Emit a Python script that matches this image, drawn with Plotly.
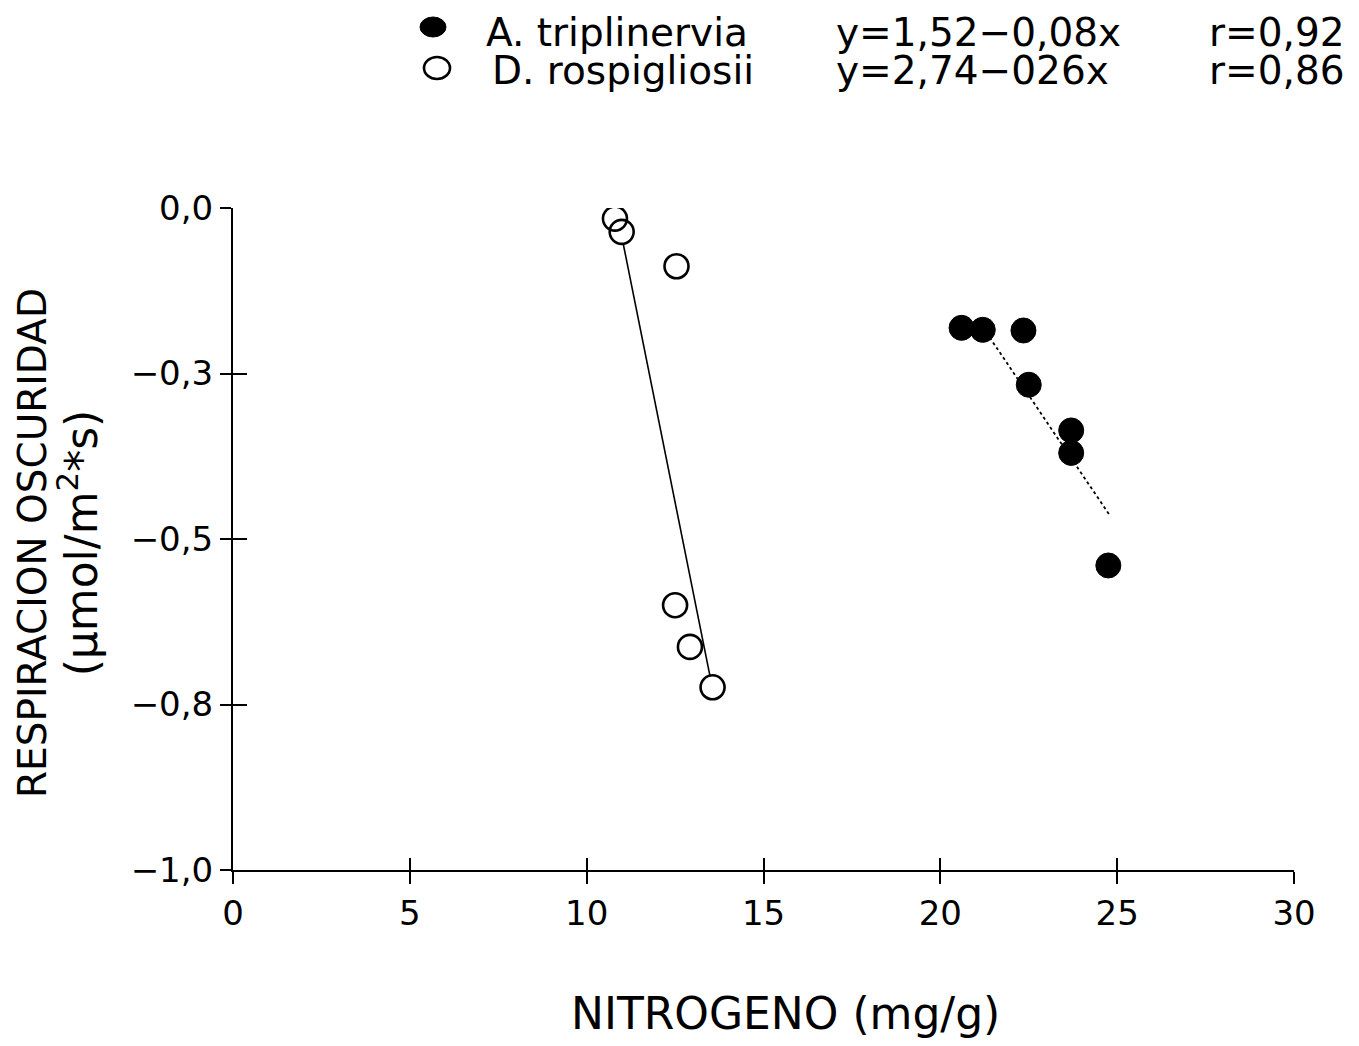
import plotly.graph_objects as go

# ---- data ----
a_name = "A. triplinervia"
a_x = [20.6, 21.2, 22.35, 22.5, 23.7, 23.7, 24.75]
a_y = [-0.181, -0.184, -0.185, -0.267, -0.336, -0.370, -0.540]
a_fit_x = [21.3, 24.8]
a_fit_y = [-0.188, -0.465]
a_eq = "y=1,52−0,08x"
a_r = "r=0,92"

d_name = "D. rospigliosii"
d_x = [10.80, 10.99, 12.54, 12.50, 12.92, 13.56]
d_y = [-0.016, -0.036, -0.088, -0.600, -0.663, -0.724]
d_fit_x = [11.03, 13.49]
d_fit_y = [-0.053, -0.708]
d_eq = "y=2,74−026x"
d_r = "r=0,86"

x_ticks = [0, 5, 10, 15, 20, 25, 30]
y_ticks = [0.0, -0.25, -0.5, -0.75, -1.0]
y_ticktext = ["0,0", "−0,3", "−0,5", "−0,8", "−1,0"]

x_title = "NITROGENO (mg/g)"
y_title = ("RESPIRACION OSCURIDAD<br>"
           "<span style='font-size:44px'>(µmol/m<sup>2</sup>*s)</span>")

FONT = "DejaVu Sans"
OFF = 8  # page body margin
W, H = 1359 - 2 * OFF, 1046 - 2 * OFF
L, T = 233 - OFF, 208 - OFF
R = W - (1294 - OFF)
B = H - (870 - OFF)
PW, PH = W - L - R, H - T - B


def px(xp):
    return (xp - OFF - L) / PW


def py(yp):
    return (H - B - (yp - OFF)) / PH


fig = go.Figure()

fig.add_trace(go.Scatter(x=d_fit_x, y=d_fit_y, mode="lines",
                         line=dict(color="black", width=1.6), showlegend=False))
fig.add_trace(go.Scatter(x=a_fit_x, y=a_fit_y, mode="lines",
                         line=dict(color="black", width=1.8, dash="dot"), showlegend=False))
fig.add_trace(go.Scatter(x=d_x, y=d_y, mode="markers", name=d_name,
                         marker=dict(symbol="circle-open", size=24, color="black",
                                     line=dict(width=2.6, color="black")),
                         showlegend=False))
fig.add_trace(go.Scatter(x=a_x, y=a_y, mode="markers", name=a_name,
                         marker=dict(symbol="circle", size=25, color="black",
                                     line=dict(width=1, color="black")),
                         showlegend=False))
# dummy trace to create overlay axes used for the inward half of the ticks
fig.add_trace(go.Scatter(x=[None], y=[None], xaxis="x2", yaxis="y2",
                         showlegend=False, hoverinfo="skip"))

axis_common = dict(showgrid=False, zeroline=False, color="black")

fig.update_layout(
    width=W, height=H,
    margin=dict(l=L, r=R, t=T, b=B),
    paper_bgcolor="white", plot_bgcolor="white",
    showlegend=False,
    font=dict(family=FONT, color="black"),
    xaxis=dict(range=[0, 30], tickvals=x_ticks, showline=True, linecolor="black",
               linewidth=2, ticks="outside", ticklen=12, tickwidth=2,
               tickcolor="black", ticklabelstandoff=0,
               tickfont=dict(family=FONT, size=34, color="black"), **axis_common),
    yaxis=dict(range=[-1.0, 0.0], tickvals=y_ticks, ticktext=y_ticktext,
               showline=True, linecolor="black", linewidth=2, ticks="outside",
               ticklen=11, tickwidth=2, tickcolor="black", ticklabelstandoff=0,
               tickfont=dict(family=FONT, size=34, color="black"), **axis_common),
    xaxis2=dict(range=[0, 30], tickvals=x_ticks, overlaying="x", anchor="y2",
                ticks="inside", ticklen=12, tickwidth=2, tickcolor="black",
                showticklabels=False, showline=False, **axis_common),
    yaxis2=dict(range=[-1.0, 0.0], tickvals=y_ticks, overlaying="y", anchor="x2",
                side="left", ticks="inside", ticklen=14, tickwidth=2,
                tickcolor="black", showticklabels=False, showline=False,
                **axis_common),
)

ann = []
# axis titles
ann.append(dict(text=x_title, xref="paper", yref="paper", x=px(785), y=py(1041),
                xanchor="center", yanchor="bottom", showarrow=False,
                font=dict(family=FONT, size=44, color="black")))
ann.append(dict(text=y_title, xref="paper", yref="paper", x=px(58), y=py(543),
                xanchor="center", yanchor="middle", showarrow=False, textangle=-90,
                font=dict(family=FONT, size=39, color="black")))
# legend block
leg_font = dict(family=FONT, size=39, color="black")
for name, eq, r, yc, xn in [(a_name, a_eq, a_r, 32, 484), (d_name, d_eq, d_r, 71, 490)]:
    common = dict(xref="paper", yref="paper", y=py(yc), yanchor="middle",
                  showarrow=False, font=leg_font)
    ann.append(dict(text=name, x=px(xn), xanchor="left", **common))
    ann.append(dict(text=eq, x=px(834), xanchor="left", **common))
    ann.append(dict(text=r, x=px(1347), xanchor="right", **common))
fig.update_layout(annotations=ann)

# legend symbols
fig.add_shape(type="circle", xref="paper", yref="paper", xsizemode="pixel",
              ysizemode="pixel", xanchor=px(433), yanchor=py(27),
              x0=-13, x1=13, y0=-10, y1=10, fillcolor="black",
              line=dict(color="black", width=1))
fig.add_shape(type="circle", xref="paper", yref="paper", xsizemode="pixel",
              ysizemode="pixel", xanchor=px(437), yanchor=py(68),
              x0=-13, x1=13, y0=-11, y1=11, fillcolor="rgba(0,0,0,0)",
              line=dict(color="black", width=2.6))

fig.write_html("out.html")
